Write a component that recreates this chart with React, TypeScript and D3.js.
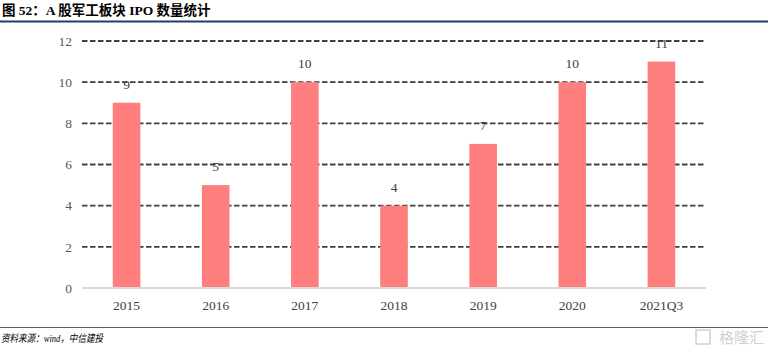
import * as d3 from 'd3';

const CATEGORIES = ['2015', '2016', '2017', '2018', '2019', '2020', '2021Q3'];
const IPO_COUNTS = [9, 5, 10, 4, 7, 10, 11];
const Y_TICKS = [0, 2, 4, 6, 8, 10, 12];

const WIDTH = 768;
const HEIGHT = 351;
const SERIF = '"Liberation Serif", "Times New Roman", "Noto Sans CJK SC", serif';

export default function App() {
    const margin = { top: 41, right: 62, bottom: 63, left: 82 };
    const innerWidth = WIDTH - margin.left - margin.right;
    const innerHeight = HEIGHT - margin.top - margin.bottom;

    const x = d3.scaleBand<string>()
        .domain(CATEGORIES)
        .range([0, innerWidth])
        .paddingInner(0.69)
        .paddingOuter(0.345);

    const y = d3.scaleLinear()
        .domain([0, 12])
        .range([innerHeight, 0]);

    const cx = (c: string) => (x(c) ?? 0) + x.bandwidth() / 2;

    return (
        <svg width={WIDTH} height={HEIGHT} style={{ position: 'absolute', left: 0, top: 0, background: '#fff' }}>
            {/* Title */}
            <text x={2} y={15} fontFamily={SERIF} fontWeight="bold" fontSize={13.5} fill="#000">
                图 52：A 股军工板块 IPO 数量统计
            </text>
            <line x1={0} x2={WIDTH} y1={21.5} y2={21.5} stroke="#1f3f66" strokeWidth={2} />

            <g transform={`translate(${margin.left}, ${margin.top})`}>
                {/* Y tick labels */}
                {Y_TICKS.map(t => (
                    <text key={t} x={-10} y={y(t)} dy="0.35em" textAnchor="end"
                        fontFamily={SERIF} fontSize={13.5} fill="#595959">{t}</text>
                ))}
                {/* Value and category labels (grid runs over these) */}
                {CATEGORIES.map((c, i) => (
                    <g key={c}>
                        <text x={cx(c)} y={y(IPO_COUNTS[i]) - 14}
                            textAnchor="middle" fontFamily={SERIF} fontSize={13.5} fill="#404040">
                            {IPO_COUNTS[i]}
                        </text>
                        <text x={cx(c)} y={innerHeight + 22}
                            textAnchor="middle" fontFamily={SERIF} fontSize={13.5} fill="#404040">
                            {c}
                        </text>
                    </g>
                ))}
                {/* Grid lines */}
                {Y_TICKS.filter(t => t > 0).map(t => (
                    <line key={t} x1={0} x2={innerWidth} y1={y(t)} y2={y(t)}
                        stroke="#404040" strokeWidth={1.8} strokeDasharray="5.5,2.5" />
                ))}
                {/* Bars on top of grid */}
                {CATEGORIES.map((c, i) => (
                    <rect key={c} x={x(c)} y={y(IPO_COUNTS[i])} width={x.bandwidth()}
                        height={innerHeight - y(IPO_COUNTS[i])} fill="#ff7f7f" />
                ))}
                {/* X axis line */}
                <line x1={0} x2={innerWidth} y1={innerHeight} y2={innerHeight} stroke="#d9d9d9" strokeWidth={2} />
            </g>

            {/* Source */}
            <line x1={0} x2={WIDTH} y1={327.5} y2={327.5} stroke="#5a6070" strokeWidth={1} />
            <text x={1} y={342} fontFamily={SERIF} fontStyle="italic" fontSize={10.5} fill="#000"
                textLength={102} lengthAdjust="spacingAndGlyphs">
                资料来源：wind，中信建投
            </text>
            <rect x={696} y={330} width={14} height={14} fill="none" stroke="#d0d0d0" strokeWidth={1.5} />
            <text x={764} y={343} textAnchor="end" fontFamily='"Noto Sans CJK SC", sans-serif'
                fontSize={15} fill="#d0d0d0">格隆汇</text>
        </svg>
    );
}
